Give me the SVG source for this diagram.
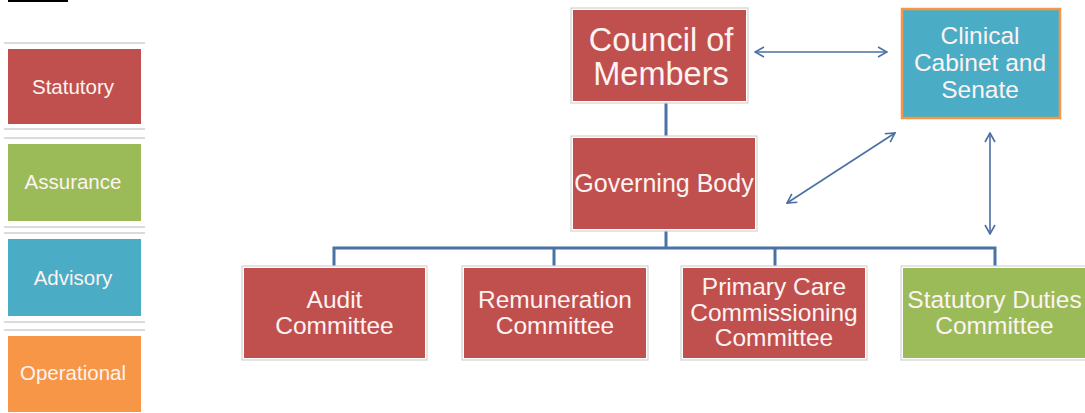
<svg xmlns="http://www.w3.org/2000/svg" width="1085" height="413" viewBox="0 0 1085 413">
<style>
.t{font-family:"Liberation Sans",Arial,sans-serif;fill:#fdf3f3;text-anchor:middle}
.frame{fill:#fff;stroke:#d2d2d2;stroke-width:1.2}
.red{fill:#c0504d}.green{fill:#9bbb59}.blue{fill:#4bacc6}.orange{fill:#f79646}
.sep{stroke:#cfcfcf;stroke-width:1.5}
.tree{stroke:#4a72a6;stroke-width:3;fill:none}
.arr{stroke:#4a6fa3;stroke-width:1.6;fill:none;marker-start:url(#ah);marker-end:url(#ah)}
</style>
<defs>
<marker id="ah" viewBox="0 0 12 12" refX="11" refY="6" markerWidth="12" markerHeight="12" markerUnits="userSpaceOnUse" orient="auto-start-reverse">
<path d="M2,1 L11,6 L2,11" fill="none" stroke="#4a6fa3" stroke-width="1.6"/>
</marker>
</defs>
<rect width="1085" height="413" fill="#fff"/>
<line x1="8" y1="1" x2="68" y2="1" stroke="#000" stroke-width="2"/>
<g id="legend">
<line class="sep" x1="4" y1="43" x2="145" y2="43"/>
<line class="sep" x1="4" y1="129" x2="145" y2="129"/>
<line class="sep" x1="4" y1="138" x2="145" y2="138"/>
<line class="sep" x1="4" y1="227" x2="145" y2="227"/>
<line class="sep" x1="4" y1="233" x2="145" y2="233"/>
<line class="sep" x1="4" y1="322" x2="145" y2="322"/>
<line class="sep" x1="4" y1="330" x2="145" y2="330"/>
<g id="legend-statutory"><rect class="red" x="8" y="49" width="133" height="75"/><text class="t" x="73" y="94" font-size="20.5">Statutory</text></g>
<g id="legend-assurance"><rect class="green" x="8" y="144" width="133" height="77"/><text class="t" x="73" y="189" font-size="20.5">Assurance</text></g>
<g id="legend-advisory"><rect class="blue" x="8" y="239" width="133" height="77"/><text class="t" x="73" y="285" font-size="20.5">Advisory</text></g>
<g id="legend-operational"><rect class="orange" x="8" y="336" width="133" height="76"/><text class="t" x="73" y="380" font-size="20.5">Operational</text></g>
</g>
<g id="connectors">
<line class="tree" x1="666" y1="101" x2="666" y2="138"/>
<polyline class="tree" points="666,229 666,248"/>
<polyline class="tree" points="334,267 334,248 995,248 995,267"/>
<line class="tree" x1="554" y1="248" x2="554" y2="267"/>
<line class="tree" x1="775" y1="248" x2="775" y2="267"/>
<line class="arr" x1="755" y1="52" x2="887" y2="52"/>
<line class="arr" x1="787" y1="203" x2="895" y2="133"/>
<line class="arr" x1="990" y1="133" x2="990" y2="234"/>
</g>
<g id="council">
<rect class="frame" x="571" y="8" width="177" height="95"/>
<rect class="red" x="573" y="10" width="173" height="91"/>
<text class="t" x="661" y="50.5" font-size="32.5">Council of</text>
<text class="t" x="661" y="85" font-size="32.5">Members</text>
</g>
<g id="clinical">
<rect x="902" y="9" width="158" height="109" fill="#4bacc6" stroke="#f79646" stroke-width="2.5"/>
<text class="t" x="980" y="44" font-size="24.5">Clinical</text>
<text class="t" x="980" y="71" font-size="24.5">Cabinet and</text>
<text class="t" x="980" y="98" font-size="24.5">Senate</text>
</g>
<g id="governing">
<rect class="frame" x="571" y="136" width="186" height="95"/>
<rect class="red" x="573" y="138" width="182" height="91"/>
<text class="t" x="664" y="192" font-size="25">Governing Body</text>
</g>
<g id="audit">
<rect class="frame" x="242" y="266" width="185" height="94"/>
<rect class="red" x="244" y="268" width="181" height="90"/>
<text class="t" x="334.5" y="308" font-size="24.5">Audit</text>
<text class="t" x="334.5" y="334" font-size="24.5">Committee</text>
</g>
<g id="remuneration">
<rect class="frame" x="462" y="266" width="186" height="94"/>
<rect class="red" x="464" y="268" width="182" height="90"/>
<text class="t" x="555" y="308" font-size="24.5">Remuneration</text>
<text class="t" x="555" y="334" font-size="24.5">Committee</text>
</g>
<g id="primary-care">
<rect class="frame" x="681" y="266" width="186" height="94"/>
<rect class="red" x="683" y="268" width="182" height="90"/>
<text class="t" x="774" y="295" font-size="24.5">Primary Care</text>
<text class="t" x="774" y="321" font-size="24.5">Commissioning</text>
<text class="t" x="774" y="346" font-size="24.5">Committee</text>
</g>
<g id="statutory-duties">
<rect class="frame" x="901" y="266" width="186" height="94"/>
<rect class="green" x="903" y="268" width="182" height="90"/>
<text class="t" x="994.5" y="308" font-size="24.5">Statutory Duties</text>
<text class="t" x="994.5" y="334" font-size="24.5">Committee</text>
</g>
</svg>
